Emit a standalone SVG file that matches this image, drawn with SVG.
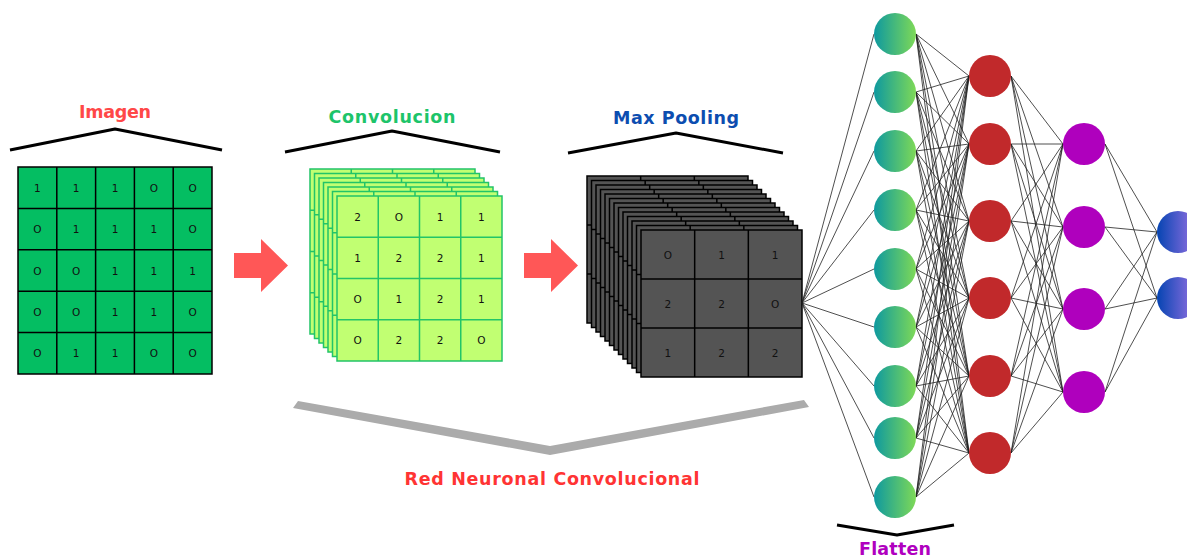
<svg xmlns="http://www.w3.org/2000/svg" xmlns:xlink="http://www.w3.org/1999/xlink" width="1187" height="559" viewBox="0 0 1187 559">
  <style>
    .title { font-family: "DejaVu Sans", "Liberation Sans", sans-serif; font-weight: bold; font-size: 17.5px; text-anchor: middle; }
    .cell { font-family: "DejaVu Sans", "Liberation Sans", sans-serif; font-size: 10.5px; text-anchor: middle; fill: #111; }
    .roof { fill: none; stroke: #000; stroke-width: 3; stroke-linejoin: round; }
    .grid-img { fill: none; stroke: #000; stroke-width: 1.5; }
    .conv-layer { fill: #C1FF72; stroke: #22C468; stroke-width: 1.5; }
    .conv-line { stroke: #22C468; stroke-width: 1.5; }
    .pool-layer { fill: #545454; stroke: #000; stroke-width: 1.5; }
    .pool-line { stroke: #000; stroke-width: 1.5; }
    .arrow { fill: #FF5757; }
    .link { fill: none; stroke: #222; stroke-width: 0.8; }
    .n-flat { fill: url(#gFlat); }
    .n-red { fill: #C1292B; }
    .n-purple { fill: #AF00BD; }
    .n-out { fill: url(#gOut); }
  </style>
  <defs>
    <linearGradient id="gFlat" x1="0" y1="0" x2="1" y2="0">
      <stop offset="0" stop-color="#0E999F"/>
      <stop offset="1" stop-color="#7ED957"/>
    </linearGradient>
    <linearGradient id="gOut" x1="0" y1="0" x2="1" y2="0">
      <stop offset="0" stop-color="#0544B2"/>
      <stop offset="1" stop-color="#A074E6"/>
    </linearGradient>
    <!-- one 4x4 feature map -->
    <g id="convLayer">
      <rect class="conv-layer" x="0" y="0" width="165" height="165"/>
      <path class="conv-line" d="M41.25 0V165M82.5 0V165M123.75 0V165M0 41.25H165M0 82.5H165M0 123.75H165"/>
    </g>
    <!-- one 3x3 pooled map -->
    <g id="poolLayer">
      <rect class="pool-layer" x="0" y="0" width="161" height="147"/>
      <path class="pool-line" d="M53.67 0V147M107.33 0V147M0 49H161M0 98H161"/>
    </g>
  </defs>

  <rect width="1187" height="559" fill="#fff"/>

  <!-- input image 5x5 -->
  <g id="imagen">
    <text class="title" x="115" y="118" fill="#FF4848" textLength="72">Imagen</text>
    <polyline class="roof" points="10,150 115,129 222,150"/>
    <rect x="18" y="167" width="194" height="207" fill="#04BE62"/>
    <path class="grid-img" d="M18 167H212V374H18ZM56.8 167V374M95.6 167V374M134.4 167V374M173.2 167V374M18 208.4H212M18 249.8H212M18 291.2H212M18 332.6H212"/>
    <g>
      <text class="cell" x="37.4" y="191.7">1</text><text class="cell" x="76.2" y="191.7">1</text><text class="cell" x="115" y="191.7">1</text><text class="cell" x="153.8" y="191.7">O</text><text class="cell" x="192.6" y="191.7">O</text>
      <text class="cell" x="37.4" y="233.1">O</text><text class="cell" x="76.2" y="233.1">1</text><text class="cell" x="115" y="233.1">1</text><text class="cell" x="153.8" y="233.1">1</text><text class="cell" x="192.6" y="233.1">O</text>
      <text class="cell" x="37.4" y="274.5">O</text><text class="cell" x="76.2" y="274.5">O</text><text class="cell" x="115" y="274.5">1</text><text class="cell" x="153.8" y="274.5">1</text><text class="cell" x="192.6" y="274.5">1</text>
      <text class="cell" x="37.4" y="315.9">O</text><text class="cell" x="76.2" y="315.9">O</text><text class="cell" x="115" y="315.9">1</text><text class="cell" x="153.8" y="315.9">1</text><text class="cell" x="192.6" y="315.9">O</text>
      <text class="cell" x="37.4" y="357.3">O</text><text class="cell" x="76.2" y="357.3">1</text><text class="cell" x="115" y="357.3">1</text><text class="cell" x="153.8" y="357.3">O</text><text class="cell" x="192.6" y="357.3">O</text>
    </g>
  </g>

  <!-- arrows between stages -->
  <g id="arrows">
    <polygon class="arrow" points="234,253 261,253 261,239 288,265.5 261,292 261,278 234,278"/>
    <polygon class="arrow" points="524,253 551,253 551,239 578,265.5 551,292 551,278 524,278"/>
  </g>

  <!-- convolution stack -->
  <g id="convolucion">
    <text class="title" x="392" y="123" fill="#1DC46A" textLength="127">Convolucion</text>
    <polyline class="roof" points="285,152 392,131 500,152"/>
    <use xlink:href="#convLayer" x="310" y="169"/>
    <use xlink:href="#convLayer" x="314.5" y="173.5"/>
    <use xlink:href="#convLayer" x="319" y="178"/>
    <use xlink:href="#convLayer" x="323.5" y="182.5"/>
    <use xlink:href="#convLayer" x="328" y="187"/>
    <use xlink:href="#convLayer" x="332.5" y="191.5"/>
    <use xlink:href="#convLayer" x="337" y="196"/>
    <g>
      <text class="cell" x="357.6" y="220.6">2</text><text class="cell" x="398.9" y="220.6">O</text><text class="cell" x="440.1" y="220.6">1</text><text class="cell" x="481.4" y="220.6">1</text>
      <text class="cell" x="357.6" y="261.9">1</text><text class="cell" x="398.9" y="261.9">2</text><text class="cell" x="440.1" y="261.9">2</text><text class="cell" x="481.4" y="261.9">1</text>
      <text class="cell" x="357.6" y="303.1">O</text><text class="cell" x="398.9" y="303.1">1</text><text class="cell" x="440.1" y="303.1">2</text><text class="cell" x="481.4" y="303.1">1</text>
      <text class="cell" x="357.6" y="344.4">O</text><text class="cell" x="398.9" y="344.4">2</text><text class="cell" x="440.1" y="344.4">2</text><text class="cell" x="481.4" y="344.4">O</text>
    </g>
  </g>

  <!-- max pooling stack -->
  <g id="max-pooling">
    <text class="title" x="676" y="124" fill="#0C4DB0" textLength="126">Max Pooling</text>
    <polyline class="roof" points="568,153 676,133 783,153"/>
    <use xlink:href="#poolLayer" x="587" y="176"/>
    <use xlink:href="#poolLayer" x="591.5" y="180.5"/>
    <use xlink:href="#poolLayer" x="596" y="185"/>
    <use xlink:href="#poolLayer" x="600.5" y="189.5"/>
    <use xlink:href="#poolLayer" x="605" y="194"/>
    <use xlink:href="#poolLayer" x="609.5" y="198.5"/>
    <use xlink:href="#poolLayer" x="614" y="203"/>
    <use xlink:href="#poolLayer" x="618.5" y="207.5"/>
    <use xlink:href="#poolLayer" x="623" y="212"/>
    <use xlink:href="#poolLayer" x="627.5" y="216.5"/>
    <use xlink:href="#poolLayer" x="632" y="221"/>
    <use xlink:href="#poolLayer" x="636.5" y="225.5"/>
    <use xlink:href="#poolLayer" x="641" y="230"/>
    <g>
      <text class="cell" x="667.8" y="258.5">O</text><text class="cell" x="721.5" y="258.5">1</text><text class="cell" x="775.2" y="258.5">1</text>
      <text class="cell" x="667.8" y="307.5">2</text><text class="cell" x="721.5" y="307.5">2</text><text class="cell" x="775.2" y="307.5">O</text>
      <text class="cell" x="667.8" y="356.5">1</text><text class="cell" x="721.5" y="356.5">2</text><text class="cell" x="775.2" y="356.5">2</text>
    </g>
  </g>

  <!-- bracket spanning the convolutional part -->
  <g id="cnn-label">
    <polygon points="298,401 550,446 804,400 809,407 550,455 293,408" fill="#ABABAB"/>
    <text class="title" x="552" y="485" fill="#FF3434" textLength="295">Red Neuronal Convolucional</text>
  </g>

  <!-- dense connections -->
  <g id="connectors">
    <path class="link" d="M802 303L874 34M802 303L874 92M802 303L874 151M802 303L874 210M802 303L874 269M802 303L874 327M802 303L874 386M802 303L874 438M802 303L874 497"/>
    <path class="link" d="
      M916 34L969 76M916 34L969 144M916 34L969 221M916 34L969 298M916 34L969 376M916 34L969 453
      M916 92L969 76M916 92L969 144M916 92L969 221M916 92L969 298M916 92L969 376M916 92L969 453
      M916 151L969 76M916 151L969 144M916 151L969 221M916 151L969 298M916 151L969 376M916 151L969 453
      M916 210L969 76M916 210L969 144M916 210L969 221M916 210L969 298M916 210L969 376M916 210L969 453
      M916 269L969 76M916 269L969 144M916 269L969 221M916 269L969 298M916 269L969 376M916 269L969 453
      M916 327L969 76M916 327L969 144M916 327L969 221M916 327L969 298M916 327L969 376M916 327L969 453
      M916 386L969 76M916 386L969 144M916 386L969 221M916 386L969 298M916 386L969 376M916 386L969 453
      M916 438L969 76M916 438L969 144M916 438L969 221M916 438L969 298M916 438L969 376M916 438L969 453
      M916 497L969 76M916 497L969 144M916 497L969 221M916 497L969 298M916 497L969 376M916 497L969 453"/>
    <path class="link" d="
      M1011 76L1063 144M1011 76L1063 227M1011 76L1063 309M1011 76L1063 392
      M1011 144L1063 144M1011 144L1063 227M1011 144L1063 309M1011 144L1063 392
      M1011 221L1063 144M1011 221L1063 227M1011 221L1063 309M1011 221L1063 392
      M1011 298L1063 144M1011 298L1063 227M1011 298L1063 309M1011 298L1063 392
      M1011 376L1063 144M1011 376L1063 227M1011 376L1063 309M1011 376L1063 392
      M1011 453L1063 144M1011 453L1063 227M1011 453L1063 309M1011 453L1063 392"/>
    <path class="link" d="
      M1105 144L1157 232M1105 144L1157 298
      M1105 227L1157 232M1105 227L1157 298
      M1105 309L1157 232M1105 309L1157 298
      M1105 392L1157 232M1105 392L1157 298"/>
  </g>

  <!-- flatten layer -->
  <g id="f1"><circle class="n-flat" cx="895" cy="34" r="21"/></g>
  <g id="f2"><circle class="n-flat" cx="895" cy="92" r="21"/></g>
  <g id="f3"><circle class="n-flat" cx="895" cy="151" r="21"/></g>
  <g id="f4"><circle class="n-flat" cx="895" cy="210" r="21"/></g>
  <g id="f5"><circle class="n-flat" cx="895" cy="269" r="21"/></g>
  <g id="f6"><circle class="n-flat" cx="895" cy="327" r="21"/></g>
  <g id="f7"><circle class="n-flat" cx="895" cy="386" r="21"/></g>
  <g id="f8"><circle class="n-flat" cx="895" cy="438" r="21"/></g>
  <g id="f9"><circle class="n-flat" cx="895" cy="497" r="21"/></g>

  <!-- hidden layer 1 -->
  <g id="h1"><circle class="n-red" cx="990" cy="76" r="21"/></g>
  <g id="h2"><circle class="n-red" cx="990" cy="144" r="21"/></g>
  <g id="h3"><circle class="n-red" cx="990" cy="221" r="21"/></g>
  <g id="h4"><circle class="n-red" cx="990" cy="298" r="21"/></g>
  <g id="h5"><circle class="n-red" cx="990" cy="376" r="21"/></g>
  <g id="h6"><circle class="n-red" cx="990" cy="453" r="21"/></g>

  <!-- hidden layer 2 -->
  <g id="p1"><circle class="n-purple" cx="1084" cy="144" r="21"/></g>
  <g id="p2"><circle class="n-purple" cx="1084" cy="227" r="21"/></g>
  <g id="p3"><circle class="n-purple" cx="1084" cy="309" r="21"/></g>
  <g id="p4"><circle class="n-purple" cx="1084" cy="392" r="21"/></g>

  <!-- output layer -->
  <g id="o1"><circle class="n-out" cx="1178" cy="232" r="21"/></g>
  <g id="o2"><circle class="n-out" cx="1178" cy="298" r="21"/></g>

  <!-- flatten label -->
  <g id="flatten-label">
    <polyline class="roof" points="837,525 897,535 954,525"/>
    <text class="title" x="895" y="555" fill="#B000BF" textLength="72">Flatten</text>
  </g>
</svg>
